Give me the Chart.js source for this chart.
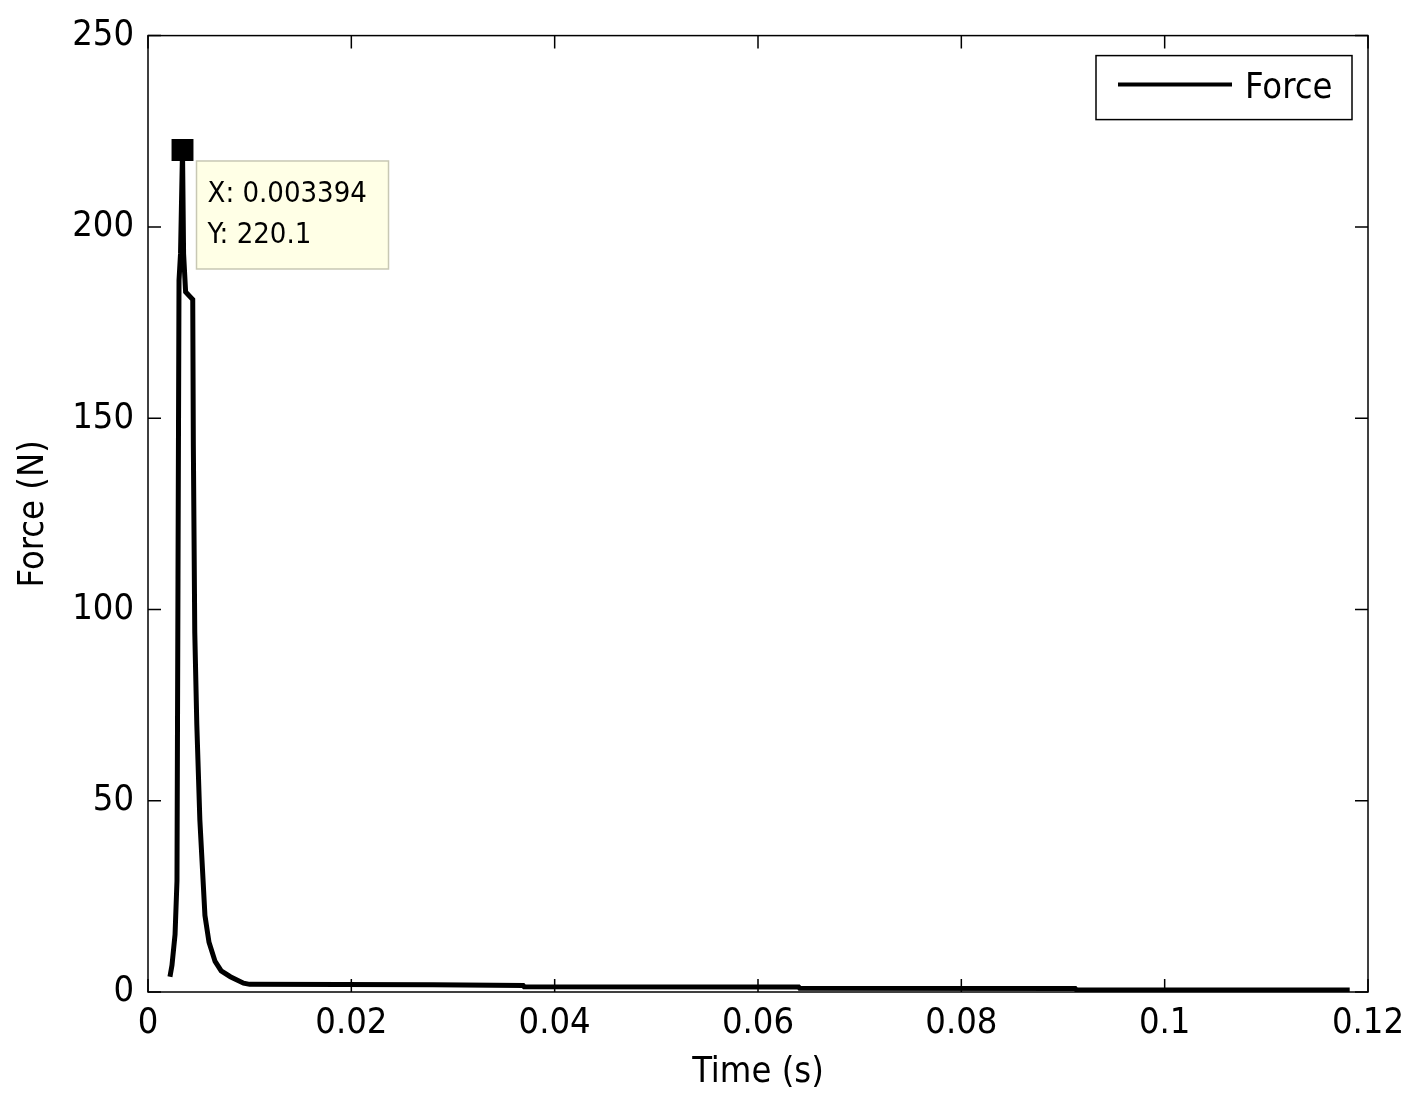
<!DOCTYPE html>
<html>
<head>
<meta charset="utf-8">
<script src="https://cdn.jsdelivr.net/npm/chart.js@4/dist/chart.umd.min.js"></script>
<style>
  html, body { margin: 0; padding: 0; background: #ffffff; }
  #c { display: block; }
</style>
</head>
<body>
<canvas id="c" width="1428" height="1106"></canvas>
<script>
// ---- data ----
const timeS = [
  0.00216, 0.00236, 0.00266, 0.00285, 0.00295, 0.00305, 0.00320, 0.003394,
  0.00350, 0.00370, 0.00440, 0.00446, 0.00460, 0.00480, 0.00510, 0.00560,
  0.00600, 0.00660, 0.00720, 0.00810, 0.00940, 0.01000, 0.02800, 0.03690,
  0.03700, 0.06400, 0.06410, 0.09120, 0.09130, 0.11820
];
const forceN = [
  4, 7, 15, 29, 108, 186, 193, 220.1,
  193, 183, 181, 143, 94, 70, 45, 20,
  13, 8, 5.5, 4, 2.3, 2.0, 1.9, 1.7,
  1.4, 1.3, 1.0, 0.9, 0.6, 0.5
];
const markerTime = [0.003394];
const markerForce = [220.1];
const xTicks = [0, 0.02, 0.04, 0.06, 0.08, 0.1, 0.12];
const yTicks = [0, 50, 100, 150, 200, 250];
const seriesName = 'Force';
const xTitle = 'Time (s)';
const yTitle = 'Force (N)';

const FONT = '"Liberation Sans Narrow", "DejaVu Sans Condensed", "Liberation Sans", sans-serif';

const boxPlugin = {
  id: 'matlabBox',
  afterDatasetsDraw(chart) {
    const ctx = chart.ctx;
    const a = chart.chartArea;
    const xs = chart.scales.x, ys = chart.scales.y;
    ctx.save();
    ctx.strokeStyle = '#000';
    ctx.lineWidth = 1.5;
    ctx.strokeRect(a.left, a.top, a.right - a.left, a.bottom - a.top);
    const tl = 13;
    ctx.beginPath();
    xTicks.forEach(v => {
      const px = xs.getPixelForValue(v);
      ctx.moveTo(px, a.bottom); ctx.lineTo(px, a.bottom - tl);
      ctx.moveTo(px, a.top); ctx.lineTo(px, a.top + tl);
    });
    yTicks.forEach(v => {
      const py = ys.getPixelForValue(v);
      ctx.moveTo(a.left, py); ctx.lineTo(a.left + tl, py);
      ctx.moveTo(a.right, py); ctx.lineTo(a.right - tl, py);
    });
    ctx.stroke();

    // legend box
    const lx = a.right - 272, ly = a.top + 20, lw = 256, lh = 64;
    ctx.fillStyle = '#fff';
    ctx.fillRect(lx, ly, lw, lh);
    ctx.lineWidth = 1.5;
    ctx.strokeRect(lx, ly, lw, lh);
    ctx.lineWidth = 4;
    ctx.beginPath();
    ctx.moveTo(lx + 22, ly + 29); ctx.lineTo(lx + 136, ly + 29);
    ctx.stroke();
    ctx.fillStyle = '#000';
    ctx.font = '36px ' + FONT;
    ctx.textBaseline = 'middle';
    ctx.textAlign = 'left';
    ctx.fillText(seriesName, lx + 149, ly + 33);

    // data tip
    const mx = xs.getPixelForValue(markerTime[0]);
    const my = ys.getPixelForValue(markerForce[0]);
    const tx = mx + 14, ty = my + 11, tw = 192, th = 108;
    ctx.fillStyle = '#ffffe6';
    ctx.fillRect(tx, ty, tw, th);
    ctx.strokeStyle = '#c8c8b4';
    ctx.lineWidth = 1.5;
    ctx.strokeRect(tx, ty, tw, th);
    ctx.fillStyle = '#000';
    ctx.font = '29px ' + FONT;
    ctx.fillText('X: ' + markerTime[0], tx + 11, ty + 33);
    ctx.fillText('Y: ' + markerForce[0], tx + 11, ty + 74);
    ctx.restore();
  }
};

const bgPlugin = {
  id: 'bg',
  beforeDraw(chart) {
    const ctx = chart.ctx;
    ctx.save();
    ctx.fillStyle = '#fff';
    ctx.fillRect(0, 0, chart.width, chart.height);
    ctx.restore();
  }
};

new Chart(document.getElementById('c'), {
  type: 'line',
  data: {
    datasets: [
      {
        label: seriesName,
        data: timeS.map((t, i) => ({ x: t, y: forceN[i] })),
        borderColor: '#000',
        borderWidth: 5,
        pointRadius: 0,
        tension: 0,
        fill: false,
        order: 2
      },
      {
        label: 'marker',
        data: markerTime.map((t, i) => ({ x: t, y: markerForce[i] })),
        showLine: false,
        pointStyle: 'rect',
        pointRadius: 15.5,
        backgroundColor: '#000',
        borderColor: '#000',
        borderWidth: 0,
        order: 1
      }
    ]
  },
  options: {
    responsive: false,
    animation: false,
    devicePixelRatio: 1,
    layout: { padding: { top: 33, right: 60, left: 0, bottom: 0 } },
    plugins: {
      legend: { display: false },
      tooltip: { enabled: false }
    },
    scales: {
      x: {
        type: 'linear',
        min: 0, max: 0.12,
        afterBuildTicks(s) { s.ticks = xTicks.map(v => ({ value: v })); },
        afterFit(s) { s.height = 114; },
        grid: { display: false, drawTicks: false },
        border: { display: false },
        ticks: {
          color: '#000',
          padding: 10,
          maxRotation: 0,
          autoSkip: false,
          font: { family: FONT, size: 36 },
          callback: v => String(Number(v.toFixed(2)))
        },
        title: {
          display: true, text: xTitle, color: '#000',
          font: { family: FONT, size: 36 },
          padding: { top: 0, bottom: 12 }
        }
      },
      y: {
        type: 'linear',
        min: 0, max: 250,
        afterBuildTicks(s) { s.ticks = yTicks.map(v => ({ value: v })); },
        afterFit(s) { s.width = 148; },
        grid: { display: false, drawTicks: false },
        border: { display: false },
        ticks: {
          color: '#000',
          padding: 14,
          autoSkip: false,
          font: { family: FONT, size: 36 },
          callback: v => String(v)
        },
        title: {
          display: true, text: yTitle, color: '#000',
          font: { family: FONT, size: 36 },
          padding: { top: 12, bottom: 0 }
        }
      }
    }
  },
  plugins: [bgPlugin, boxPlugin]
});
</script>
</body>
</html>
